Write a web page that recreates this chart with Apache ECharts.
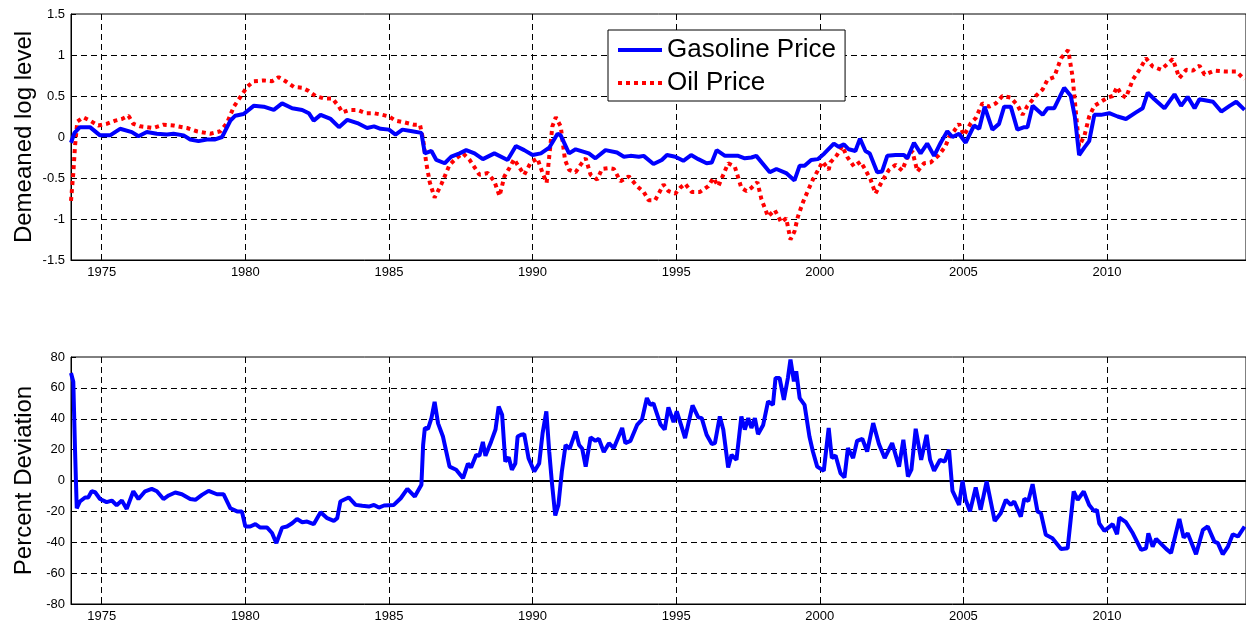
<!DOCTYPE html>
<html>
<head>
<meta charset="utf-8">
<script src="https://cdn.jsdelivr.net/npm/echarts@6/dist/echarts.min.js"></script>
<style>html,body{margin:0;padding:0;background:#fff;}#c{width:1246px;height:625px;}</style>
</head>
<body>
<div id="c"></div>
<script>
// Top panel: demeaned log levels
const gasYears = [1973.93,1974.05,1974.24,1974.59,1974.94,1975.29,1975.64,1976.05,1976.28,1976.57,1976.92,1977.27,1977.5,1977.85,1978.08,1978.37,1978.66,1978.95,1979.19,1979.48,1979.65,1979.94,1980.29,1980.64,1980.99,1981.28,1981.63,1981.98,1982.21,1982.38,1982.62,1982.97,1983.26,1983.55,1983.9,1984.24,1984.48,1984.71,1985.0,1985.23,1985.47,1985.81,1986.13,1986.25,1986.48,1986.65,1986.94,1987.17,1987.46,1987.69,1987.98,1988.27,1988.67,1989.13,1989.42,1989.71,1990.0,1990.29,1990.58,1990.87,1990.98,1991.27,1991.5,1991.96,1992.19,1992.54,1992.94,1993.18,1993.41,1993.7,1993.87,1994.21,1994.5,1994.68,1994.97,1995.25,1995.52,1995.77,1996.06,1996.24,1996.41,1996.7,1997.16,1997.39,1997.62,1997.79,1998.26,1998.49,1998.83,1999.12,1999.3,1999.47,1999.7,1999.93,2000.16,2000.49,2000.66,2000.84,2001.01,2001.24,2001.4,2001.59,2001.74,2002.0,2002.17,2002.35,2002.64,2002.93,2003.05,2003.28,2003.51,2003.74,2003.98,2004.21,2004.44,2004.62,2004.85,2005.08,2005.37,2005.55,2005.74,2006.01,2006.24,2006.42,2006.65,2006.88,2007.12,2007.23,2007.41,2007.76,2007.93,2008.16,2008.51,2008.74,2008.88,2009.03,2009.21,2009.38,2009.56,2009.79,2010.08,2010.37,2010.66,2011.01,2011.24,2011.42,2011.65,2012.0,2012.35,2012.58,2012.81,2013.05,2013.22,2013.69,2013.98,2014.27,2014.5,2014.79];
const gasLevel = [-0.07,0.05,0.12,0.12,0.02,0.02,0.10,0.06,0.01,0.06,0.04,0.03,0.04,0.02,-0.03,-0.05,-0.03,-0.03,0.00,0.20,0.26,0.28,0.38,0.37,0.33,0.41,0.35,0.33,0.29,0.20,0.27,0.22,0.12,0.21,0.17,0.11,0.13,0.10,0.09,0.03,0.09,0.07,0.05,-0.20,-0.17,-0.28,-0.32,-0.24,-0.20,-0.16,-0.20,-0.27,-0.20,-0.28,-0.11,-0.16,-0.22,-0.20,-0.13,0.04,0.02,-0.20,-0.15,-0.20,-0.26,-0.16,-0.19,-0.24,-0.23,-0.24,-0.23,-0.33,-0.28,-0.22,-0.24,-0.29,-0.22,-0.27,-0.32,-0.31,-0.16,-0.23,-0.23,-0.26,-0.25,-0.23,-0.43,-0.39,-0.44,-0.53,-0.35,-0.35,-0.28,-0.27,-0.20,-0.08,-0.12,-0.09,-0.15,-0.17,-0.02,-0.17,-0.20,-0.43,-0.42,-0.23,-0.22,-0.22,-0.26,-0.07,-0.20,-0.08,-0.23,-0.07,0.07,0.00,0.04,-0.07,0.14,0.10,0.37,0.09,0.16,0.37,0.37,0.09,0.12,0.12,0.38,0.27,0.35,0.35,0.60,0.50,0.25,-0.22,-0.13,-0.05,0.27,0.27,0.29,0.25,0.22,0.30,0.35,0.54,0.46,0.35,0.52,0.38,0.49,0.35,0.46,0.43,0.31,0.38,0.43,0.33];

const oilYears = [1973.93,1974.01,1974.07,1974.15,1974.36,1974.59,1974.88,1975.17,1975.47,1975.7,1975.93,1976.1,1976.34,1976.8,1977.15,1977.5,1977.97,1978.31,1978.78,1979.13,1979.36,1979.6,1979.83,1980.06,1980.29,1980.64,1980.93,1981.16,1981.4,1981.69,1981.98,1982.21,1982.44,1982.74,1983.03,1983.26,1983.38,1983.62,1983.9,1984.19,1984.48,1984.77,1985.0,1985.23,1985.52,1985.87,1986.08,1986.19,1986.3,1986.42,1986.59,1986.82,1987.11,1987.34,1987.58,1987.81,1988.15,1988.44,1988.67,1988.85,1989.02,1989.19,1989.36,1989.48,1989.71,1989.94,1990.17,1990.35,1990.49,1990.58,1990.69,1990.81,1990.98,1991.13,1991.27,1991.5,1991.67,1991.85,1992.02,1992.25,1992.42,1992.66,1992.83,1993.06,1993.35,1993.64,1993.87,1994.04,1994.27,1994.56,1994.73,1994.97,1995.14,1995.31,1995.54,1995.83,1996.12,1996.29,1996.47,1996.64,1996.81,1997.04,1997.27,1997.45,1997.62,1997.83,1997.97,1998.2,1998.43,1998.66,1998.83,1998.98,1999.12,1999.24,1999.41,1999.58,1999.76,1999.93,2000.1,2000.31,2000.37,2000.6,2000.78,2000.95,2001.19,2001.42,2001.59,2001.77,2001.94,2002.17,2002.41,2002.64,2002.87,2003.05,2003.22,2003.4,2003.63,2003.86,2004.15,2004.38,2004.5,2004.67,2004.85,2005.02,2005.26,2005.43,2005.66,2005.9,2006.13,2006.36,2006.65,2006.88,2007.06,2007.23,2007.52,2007.76,2007.93,2008.16,2008.4,2008.65,2008.8,2008.92,2009.03,2009.21,2009.38,2009.56,2009.79,2010.02,2010.2,2010.35,2010.49,2010.66,2010.9,2011.13,2011.36,2011.59,2011.88,2012.29,2012.52,2012.76,2012.99,2013.22,2013.4,2013.74,2014.09,2014.5,2014.79];
const oilLevel = [-0.78,-0.44,-0.11,0.19,0.24,0.20,0.14,0.16,0.20,0.22,0.26,0.16,0.13,0.11,0.15,0.14,0.11,0.07,0.04,0.07,0.17,0.37,0.49,0.61,0.68,0.69,0.68,0.73,0.68,0.61,0.60,0.56,0.50,0.47,0.47,0.37,0.30,0.33,0.33,0.29,0.29,0.27,0.25,0.20,0.18,0.15,0.15,-0.03,-0.32,-0.55,-0.74,-0.58,-0.34,-0.26,-0.20,-0.28,-0.46,-0.44,-0.54,-0.72,-0.48,-0.38,-0.27,-0.34,-0.46,-0.31,-0.26,-0.44,-0.56,-0.24,0.13,0.24,0.13,-0.28,-0.40,-0.43,-0.34,-0.26,-0.46,-0.52,-0.39,-0.38,-0.39,-0.54,-0.48,-0.60,-0.67,-0.77,-0.77,-0.58,-0.66,-0.69,-0.62,-0.57,-0.67,-0.67,-0.60,-0.50,-0.60,-0.46,-0.32,-0.36,-0.62,-0.66,-0.62,-0.55,-0.76,-0.97,-0.89,-1.04,-0.99,-1.25,-1.15,-0.97,-0.80,-0.66,-0.52,-0.41,-0.30,-0.40,-0.31,-0.22,-0.11,-0.24,-0.36,-0.30,-0.40,-0.52,-0.69,-0.54,-0.40,-0.34,-0.41,-0.24,-0.17,-0.42,-0.32,-0.31,-0.22,-0.11,0.00,0.07,0.16,0.02,0.17,0.23,0.41,0.37,0.41,0.50,0.48,0.39,0.27,0.38,0.50,0.58,0.70,0.73,0.96,1.06,0.74,0.29,-0.11,0.01,0.25,0.38,0.43,0.48,0.50,0.61,0.52,0.48,0.70,0.82,0.96,0.86,0.82,0.95,0.72,0.82,0.81,0.87,0.76,0.81,0.80,0.80,0.70];

// Bottom panel: percent deviation
const devYears = [1973.93,1974.01,1974.07,1974.13,1974.24,1974.42,1974.53,1974.65,1974.77,1974.94,1975.17,1975.35,1975.52,1975.7,1975.87,1976.1,1976.28,1976.51,1976.74,1976.92,1977.15,1977.33,1977.56,1977.79,1978.08,1978.26,1978.49,1978.72,1979.01,1979.24,1979.48,1979.71,1979.88,1980.0,1980.17,1980.35,1980.52,1980.76,1980.93,1981.08,1981.28,1981.45,1981.63,1981.8,1981.98,1982.15,1982.38,1982.62,1982.85,1983.08,1983.2,1983.31,1983.43,1983.6,1983.84,1984.07,1984.3,1984.48,1984.65,1984.83,1985.17,1985.41,1985.64,1985.9,1986.13,1986.19,1986.25,1986.36,1986.48,1986.59,1986.71,1986.88,1987.11,1987.34,1987.58,1987.75,1987.86,1988.04,1988.15,1988.27,1988.36,1988.56,1988.71,1988.82,1988.94,1989.05,1989.17,1989.28,1989.4,1989.48,1989.6,1989.71,1989.86,1990.06,1990.23,1990.35,1990.48,1990.58,1990.67,1990.79,1990.9,1991.02,1991.15,1991.29,1991.5,1991.62,1991.73,1991.85,1992.02,1992.19,1992.31,1992.48,1992.66,1992.83,1993.12,1993.23,1993.41,1993.64,1993.81,1993.98,1994.1,1994.21,1994.45,1994.6,1994.73,1994.91,1995.02,1995.17,1995.31,1995.57,1995.77,1995.89,1996.06,1996.24,1996.35,1996.52,1996.64,1996.81,1996.93,1997.1,1997.27,1997.39,1997.51,1997.62,1997.74,1997.85,1998.03,1998.2,1998.37,1998.46,1998.6,1998.75,1998.89,1998.98,1999.1,1999.18,1999.3,1999.47,1999.64,1999.76,1999.91,2000.14,2000.31,2000.42,2000.55,2000.72,2000.86,2000.98,2001.16,2001.3,2001.48,2001.65,2001.86,2002.06,2002.26,2002.52,2002.76,2002.91,2003.07,2003.19,2003.34,2003.53,2003.72,2003.84,2003.98,2004.19,2004.35,2004.5,2004.62,2004.85,2004.97,2005.08,2005.23,2005.43,2005.6,2005.81,2006.09,2006.3,2006.48,2006.65,2006.77,2007.0,2007.12,2007.26,2007.41,2007.58,2007.7,2007.87,2008.1,2008.4,2008.63,2008.84,2008.98,2009.19,2009.38,2009.56,2009.65,2009.73,2009.91,2010.2,2010.35,2010.43,2010.66,2010.9,2011.19,2011.36,2011.44,2011.59,2011.71,2012.06,2012.23,2012.52,2012.67,2012.81,2013.1,2013.34,2013.51,2013.74,2013.86,2014.03,2014.21,2014.38,2014.56,2014.79];
const devPct = [69.6,64,20,-18,-13.6,-11,-11,-7,-7.6,-12,-14,-13,-16,-13,-18.4,-7,-12,-7,-5.4,-7,-12,-9.7,-7.8,-8.9,-12,-12.5,-9.3,-6.7,-8.9,-8.9,-18,-20,-20,-29.8,-29.8,-28.3,-30.5,-30.5,-34,-40.6,-30.5,-29.8,-27.7,-24.9,-27,-26.6,-28.3,-20.5,-24.4,-26.2,-24.4,-13.6,-12.5,-11,-15.8,-16.4,-16.9,-15.8,-17.5,-16.2,-15.8,-11.5,-5.4,-10.4,-2.8,23,34,33.5,40.4,51,37,28.5,9,7,1.5,11,8.4,16.6,16,25,16,25.3,33,48,42.6,12.3,15,7,11,28.5,29.6,30,14.5,5.8,11,30.7,44.8,18.8,-0.6,-22.7,-15.8,5.8,23,20.5,31.8,23,20.5,9,27.9,25.7,27,18.4,24.2,21,34,24.2,25.7,36,39.4,53.4,49,50,36.5,33,47.4,37.8,44.8,36,27.5,48.6,40.9,40.4,29.6,23.6,24.2,41.5,33,8.4,16.6,13.4,41.5,33,40.4,34,40.4,30,36,51.2,49,66.4,66.4,52.3,66.4,78.3,64.2,70.7,53.4,49,28.5,18.8,9,6.3,34,14.5,16.2,4.8,2,21,14.5,25.7,27,18.8,37.2,23.6,14.5,24.2,9,26.4,2.6,7,33.5,13.4,29.6,13.4,6.3,13.4,12.3,19.9,-6.7,-15.8,-0.2,-12.5,-20,-4.5,-19,-0.6,-26.2,-21.2,-12.5,-15.8,-13.6,-23.4,-11.9,-13.2,-2.4,-20,-21.2,-35.2,-37.4,-44.3,-43.9,-7.1,-12.5,-7.1,-15.8,-20,-19,-27.7,-32.6,-28.3,-34.8,-24,-27,-34.2,-45,-43.9,-34.2,-42.8,-37.8,-44.3,-47,-24.9,-37,-34.2,-47.8,-32,-29.8,-39.6,-40.6,-47.8,-42.8,-34.8,-36.3,-29.8];

const topTicks = [-1.5, 1.5, 0.5];     // min, max, step
const botTicks = [-80, 80, 20];
const xRange = [1973.93, 2014.84];
const legendNames = ['Gasoline Price', 'Oil Price'];

const zip = (xs, ys) => xs.map((x, i) => [x, ys[i]]);
const FONT = 'Liberation Sans, Arial, Helvetica, sans-serif';
const gridLine = { show: true, showMinLine: false, showMaxLine: false, lineStyle: { color: '#000', width: 1, type: [6, 4] } };

function xAxis(gridIndex) {
  return {
    type: 'value', gridIndex, min: xRange[0], max: xRange[1], splitNumber: 8,
    axisLine: { show: true, onZero: false, lineStyle: { color: '#000', width: 1 } },
    axisTick: { show: true, inside: true, length: 5, lineStyle: { color: '#000' } },
    axisLabel: { color: '#000', fontSize: 13, fontFamily: FONT, margin: 6, showMinLabel: false, showMaxLabel: false,
      formatter: v => String(Math.round(v)) },
    splitLine: gridLine
  };
}
function yAxis(gridIndex, t, name, gap) {
  return {
    type: 'value', gridIndex, min: t[0], max: t[1], interval: t[2],
    name, nameLocation: 'middle', nameGap: gap, nameMoveOverlap: false,
    nameTextStyle: { color: '#000', fontSize: 24, fontFamily: FONT },
    axisLine: { show: true, lineStyle: { color: '#000', width: 1 } },
    axisTick: { show: true, inside: true, length: 5, lineStyle: { color: '#000' } },
    axisLabel: { color: '#000', fontSize: 13, fontFamily: FONT, margin: 6 },
    splitLine: gridLine
  };
}

const solidIcon = 'path://M0,0H44V4H0Z';
const dotIcon = 'path://M0,0H4V4H0Z M8,0H12V4H8Z M16,0H20V4H16Z M24,0H28V4H24Z M32,0H36V4H32Z M40,0H44V4H40Z';

const chart = echarts.init(document.getElementById('c'), null, { renderer: 'canvas' });
chart.setOption({
  animation: false,
  backgroundColor: '#fff',
  textStyle: { fontFamily: FONT },
  grid: [
    { left: 71, top: 14, width: 1177, height: 246, show: true, borderColor: '#000', borderWidth: 1, backgroundColor: 'transparent' },
    { left: 71, top: 357, width: 1177, height: 247, show: true, borderColor: '#000', borderWidth: 1, backgroundColor: 'transparent' }
  ],
  xAxis: [xAxis(0), xAxis(1)],
  yAxis: [yAxis(0, topTicks, 'Demeaned log level', 35), yAxis(1, botTicks, 'Percent Deviation', 35)],
  legend: {
    data: [
      { name: legendNames[0], icon: solidIcon, itemStyle: { color: '#0000ff' } },
      { name: legendNames[1], icon: dotIcon, itemStyle: { color: '#ff0000' } }
    ],
    orient: 'vertical', left: 608, top: 30,
    padding: [7, 9, 5, 10], itemGap: 7, itemWidth: 44, itemHeight: 4,
    borderColor: '#000', borderWidth: 1, backgroundColor: '#fff', borderRadius: 0,
    textStyle: { color: '#000', fontSize: 26, fontFamily: FONT, lineHeight: 26 }
  },
  series: [
    { name: legendNames[0], type: 'line', xAxisIndex: 0, yAxisIndex: 0, data: zip(gasYears, gasLevel),
      symbol: 'none', lineStyle: { color: '#0000ff', width: 4 }, itemStyle: { color: '#0000ff' }, z: 3 },
    { name: legendNames[1], type: 'line', xAxisIndex: 0, yAxisIndex: 0, data: zip(oilYears, oilLevel),
      symbol: 'none', lineStyle: { color: '#ff0000', width: 4, type: [4, 4] }, itemStyle: { color: '#ff0000' }, z: 2 },
    { name: 'Deviation', type: 'line', xAxisIndex: 1, yAxisIndex: 1, data: zip(devYears, devPct),
      symbol: 'none', lineStyle: { color: '#0000ff', width: 4 }, itemStyle: { color: '#0000ff' }, z: 3,
      markLine: { silent: true, symbol: ['none', 'none'], label: { show: false },
        lineStyle: { color: '#000', type: 'solid', width: 2 }, data: [{ yAxis: 0 }], z: 2 } }
  ]
});
</script>
</body>
</html>
